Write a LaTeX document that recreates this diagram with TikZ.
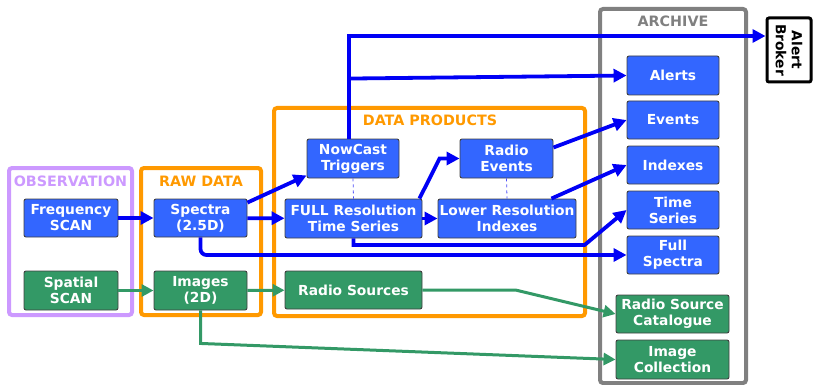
\documentclass[tikz,border=0pt]{standalone}
\usepackage{fontspec}
\setmainfont{DejaVu Sans}
\usetikzlibrary{arrows.meta,calc}
\definecolor{boxblue}{RGB}{51,102,255}
\definecolor{boxgreen}{RGB}{51,153,102}
\definecolor{flowblue}{RGB}{0,0,245}
\definecolor{obsviolet}{RGB}{204,153,255}
\definecolor{rawORANGE}{RGB}{255,153,0}
\definecolor{archgray}{RGB}{128,128,128}
\begin{document}
\begin{tikzpicture}[x=1pt,y=-1pt,
  txt/.style={font=\fontsize{13.8}{16}\selectfont\bfseries},
  bluebox/.style={txt, draw=black!75, line width=0.9pt, fill=boxblue, text=white,
    rounded corners=2pt, align=center, inner sep=0pt},
  greenbox/.style={bluebox, fill=boxgreen},
  frame/.style={line width=4pt, rounded corners=3pt},
  framelabel/.style={font=\fontsize{14.3}{16}\selectfont\bfseries},
  barrow/.style={draw=flowblue, line width=3.8pt, -{Triangle[length=13pt,width=13pt]}},
  garrow/.style={draw=boxgreen, line width=3pt, -{Triangle[length=12pt,width=12pt]}},
  link/.style={draw=flowblue!70, line width=0.8pt, dashed}
]
\useasboundingbox (0,0) rectangle (813,385);

% group frames
\draw[frame, draw=obsviolet] (9,168) rectangle (132,315);
\draw[frame, draw=rawORANGE] (141,168) rectangle (261,315);
\draw[frame, draw=rawORANGE] (274,108) rectangle (585,316);
\draw[frame, draw=archgray] (600,9) rectangle (746,383);
\node[framelabel, text=obsviolet] (lobs) at (70.5,181) {OBSERVATION};
\node[framelabel, text=rawORANGE] (lraw) at (201,181) {RAW DATA};
\node[framelabel, text=rawORANGE] (lprod) at (430,120.5) {DATA PRODUCTS};
\node[framelabel, text=archgray] (larch) at (673,21) {ARCHIVE};

% observation
\node[bluebox, minimum width=94pt, minimum height=38pt] (freq) at (71,218) {Frequency\\SCAN};
\node[greenbox, minimum width=94pt, minimum height=39pt] (spatial) at (71,290.5) {Spatial\\SCAN};
% raw data
\node[bluebox, minimum width=93pt, minimum height=38pt] (spectra) at (200.5,218) {Spectra\\(2.5D)};
\node[greenbox, minimum width=93pt, minimum height=39pt] (images) at (200.5,290.5) {Images\\(2D)};
% data products
\node[bluebox, minimum width=92pt, minimum height=39pt] (nowcast) at (353,158.5) {NowCast\\Triggers};
\node[bluebox, minimum width=137pt, minimum height=39pt] (full) at (353.5,218.5) {FULL Resolution\\Time Series};
\node[bluebox, minimum width=93pt, minimum height=39pt] (radioev) at (506.5,158.5) {Radio\\Events};
\node[bluebox, minimum width=138pt, minimum height=39pt] (lower) at (507,218.5) {Lower Resolution\\Indexes};
\node[greenbox, minimum width=137pt, minimum height=38pt] (radiosrc) at (353.5,290) {Radio Sources};
% archive
\node[bluebox, minimum width=92pt, minimum height=39pt] (alerts) at (673,75.5) {Alerts};
\node[bluebox, minimum width=92pt, minimum height=38pt] (events) at (673,120) {Events};
\node[bluebox, minimum width=92pt, minimum height=38pt] (indexes) at (673,165) {Indexes};
\node[bluebox, minimum width=92pt, minimum height=38pt] (timeser) at (673,210) {Time\\Series};
\node[bluebox, minimum width=92pt, minimum height=38pt] (fullspec) at (673,255) {Full\\Spectra};
\node[greenbox, minimum width=113pt, minimum height=38pt] (rsc) at (672.5,314) {Radio Source\\Catalogue};
\node[greenbox, minimum width=113pt, minimum height=39pt] (imgcol) at (672.5,359.5) {Image\\Collection};
% broker
\node[txt, draw=black, line width=3pt, rounded corners=2pt, fill=white, align=center,
  rotate=-90, minimum width=64pt, minimum height=44pt, inner sep=0pt] (broker) at (789,50) {Alert\\Broker};

% dashed associations
\draw[link] (nowcast.south) -- (full.north);
\draw[link] (radioev.south) -- (lower.north);

% blue flows
\draw[barrow] (freq) -- (spectra);
\draw[barrow] (spectra) -- (full);
\draw[barrow] ([yshift=-4pt]spectra.north east) -- ([yshift=3pt]nowcast.south west);
\draw[barrow, rounded corners=6pt] (spectra.south) |- (fullspec.west);
\draw[barrow] (full) -- (lower);
\draw[barrow] ([xshift=-3pt]full.north east) -- ([xshift=-20pt]radioev.west) -- (radioev.west);
\draw[barrow] (full.south) |- ($(timeser.west)+(-42,35)$) -- (timeser.west);
\draw[barrow] ([xshift=-4pt]nowcast.north) |- ([yshift=14pt]broker.south);
\draw[barrow] ([xshift=-4pt]nowcast.north) ++(0,-60) -- (alerts.west);
\draw[barrow] ([yshift=11pt]radioev.east) -- (events.west);
\draw[barrow] ([xshift=-25pt]lower.north east) -- (indexes.west);

% green flows
\draw[garrow] (spatial) -- (images);
\draw[garrow] (images) -- (radiosrc);
\draw[garrow] (radiosrc.east) -- ++(93,0) -- (rsc.west);
\draw[garrow] (images.south) -- ++(0,33) -- (imgcol.west);
\end{tikzpicture}
\end{document}
